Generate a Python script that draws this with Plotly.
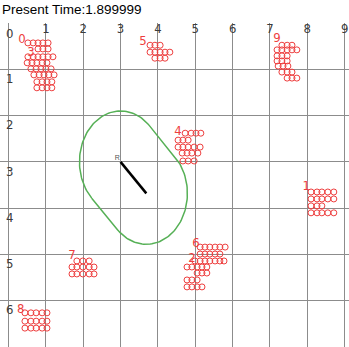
import numpy as np
import plotly.graph_objects as go

PRESENT_TIME = "1.899999"
X_TICKS = list(range(0, 10))
Y_TICKS = list(range(0, 8))

GROUP_NAMES = ["0", "1", "2", "3", "4", "5", "6", "7", "8", "9"]
LABEL_X = [0.36, 7.97, 4.91, 0.60, 4.54, 3.60, 5.02, 1.70, 0.33, 7.19]
LABEL_Y = [0.37, 3.54, 5.10, 0.65, 2.35, 0.41, 4.77, 5.03, 6.20, 0.33]

# agent rows per group: (row y, [x positions])
G0_ROWS = [(0.43, [0.52, 0.66, 0.79, 0.92, 1.06]),
           (0.56, [0.79, 0.92, 1.06])]
G1_ROWS = [(3.65, [8.10, 8.26, 8.39, 8.55, 8.71]),
           (3.80, [8.10, 8.26, 8.39, 8.55, 8.71]),
           (3.95, [8.10, 8.26, 8.39]),
           (4.10, [8.10, 8.26, 8.39, 8.55, 8.71])]
G2_ROWS = [(5.14, [4.99, 5.13]),
           (5.27, [4.78, 4.91, 5.05, 5.18, 5.31]),
           (5.40, [5.05, 5.18, 5.31]),
           (5.55, [4.78, 4.91, 5.05]),
           (5.70, [4.78, 4.91, 5.05, 5.18])]
G3_ROWS = [(0.73, [0.52, 0.66, 0.79, 0.92, 1.06, 1.19]),
           (0.86, [0.50, 0.63, 0.76, 0.90, 1.03]),
           (0.99, [0.60, 0.74, 0.87, 1.00, 1.14]),
           (1.12, [0.68, 0.82, 0.95, 1.08, 1.22]),
           (1.27, [0.76, 0.90, 1.03, 1.16]),
           (1.40, [0.76, 0.90, 1.03, 1.16])]
G4_ROWS = [(2.38, [4.73, 4.89, 5.02, 5.15]),
           (2.53, [4.54, 4.67, 4.81]),
           (2.68, [4.54, 4.67, 4.81, 4.97, 5.13]),
           (2.81, [4.65, 4.78, 4.91, 5.07]),
           (2.98, [4.67, 4.81, 4.97])]
G5_ROWS = [(0.48, [3.79, 3.92, 4.06]),
           (0.63, [3.79, 3.92, 4.06, 4.19, 4.32]),
           (0.76, [3.92, 4.06, 4.19])]
G6_ROWS = [(4.84, [5.13, 5.26, 5.39, 5.53, 5.66, 5.80]),
           (4.99, [5.13, 5.26, 5.39, 5.53, 5.66]),
           (5.14, [5.26, 5.39, 5.53, 5.66, 5.77])]
G7_ROWS = [(5.14, [1.83, 1.99, 2.16]),
           (5.27, [1.70, 1.83, 1.99, 2.16, 2.29]),
           (5.42, [1.70, 1.83, 1.99, 2.16, 2.29])]
G8_ROWS = [(6.26, [0.44, 0.60, 0.74, 0.90, 1.03]),
           (6.44, [0.44, 0.60, 0.74, 0.90, 1.03]),
           (6.59, [0.44, 0.60, 0.74, 0.90, 1.03])]
G9_ROWS = [(0.48, [7.32, 7.46, 7.59]),
           (0.58, [7.19, 7.32, 7.46, 7.59, 7.72]),
           (0.71, [7.19, 7.32, 7.46]),
           (0.82, [7.19, 7.32, 7.46]),
           (0.93, [7.22, 7.35, 7.48]),
           (1.06, [7.32, 7.46, 7.59]),
           (1.19, [7.46, 7.59, 7.72])]

ROBOT_START = (3.00, 3.00)
ROBOT_END = (3.69, 3.68)
SAFETY_RADIUS = 1.10

RED = "rgb(238,62,62)"
GRID = "#8c8c8c"
GREEN = "rgb(86,176,86)"
TICK_COLOR = "#3c3c3c"
TICK_FONT = "Liberation Sans Narrow, DejaVu Sans Condensed, Arial Narrow, Liberation Sans, sans-serif"

ax_x, ax_y = [], []
for rows in [G0_ROWS, G1_ROWS, G2_ROWS, G3_ROWS, G4_ROWS, G5_ROWS,
             G6_ROWS, G7_ROWS, G8_ROWS, G9_ROWS]:
    for yy, xs in rows:
        for xx in xs:
            ax_x.append(xx)
            ax_y.append(yy)

# safety region: stadium around robot segment
sx, sy = ROBOT_START
ex, ey = ROBOT_END
th = np.arctan2(ey - sy, ex - sx)
a1 = np.linspace(th + np.pi / 2, th + 3 * np.pi / 2, 80)
a2 = np.linspace(th - np.pi / 2, th + np.pi / 2, 80)
cx = np.concatenate([sx + SAFETY_RADIUS * np.cos(a1), ex + SAFETY_RADIUS * np.cos(a2)])
cy = np.concatenate([sy + SAFETY_RADIUS * np.sin(a1), ey + SAFETY_RADIUS * np.sin(a2)])
cx = np.append(cx, cx[0])
cy = np.append(cy, cy[0])

fig = go.Figure()
fig.add_trace(go.Scatter(x=cx, y=cy, mode="lines",
                         line=dict(color=GREEN, width=1.5), hoverinfo="skip"))
fig.add_trace(go.Scatter(x=[sx, ex], y=[sy, ey], mode="lines",
                         line=dict(color="black", width=2.5), hoverinfo="skip"))
fig.add_trace(go.Scatter(x=[sx - 0.09], y=[sy - 0.07], mode="text", text=["R"],
                         textfont=dict(size=7, color="#555", family="Liberation Sans, Arial, sans-serif"),
                         hoverinfo="skip"))
fig.add_trace(go.Scatter(x=ax_x, y=ax_y, mode="markers",
                         marker=dict(symbol="circle-open", size=6, color=RED,
                                     line=dict(width=1, color=RED)),
                         hoverinfo="skip"))
fig.add_trace(go.Scatter(x=LABEL_X, y=LABEL_Y, mode="text", text=GROUP_NAMES,
                         textfont=dict(size=13, color=RED, family=TICK_FONT),
                         hoverinfo="skip"))

W, H = 349, 347
X0_PX, T = 8.5, 23
px_x = 37.35
px_y = 46.3

fig.update_layout(
    width=W, height=H,
    margin=dict(l=0, r=0, t=T, b=0, pad=0),
    paper_bgcolor="white", plot_bgcolor="white",
    showlegend=False, hovermode=False,
    title=dict(text="Present Time:" + PRESENT_TIME, x=2 / W, xanchor="left",
               xref="container", y=1 - 4.5 / H, yref="container", yanchor="top",
               font=dict(size=13.5, color="black", family="Liberation Sans, Arial, sans-serif"),
               pad=dict(t=0, l=0, r=0, b=0)),
    xaxis=dict(range=[-X0_PX / px_x, (W - X0_PX) / px_x], side="top", tickmode="array",
               tickvals=X_TICKS[1:], ticktext=[str(v) for v in X_TICKS[1:]],
               showgrid=True, gridcolor=GRID, gridwidth=1, zeroline=False,
               showline=False, ticks="", automargin=False,
               ticklabelposition="inside", ticklabelstandoff=-2,
               tickfont=dict(size=13, color=TICK_COLOR, family=TICK_FONT)),
    yaxis=dict(range=[(H - T) / px_y, 0], tickmode="array",
               tickvals=Y_TICKS[1:], ticktext=[str(v) for v in Y_TICKS[1:]],
               showgrid=True, gridcolor=GRID, gridwidth=1, zeroline=False,
               showline=True, linecolor="#d4d4d4", linewidth=1, ticks="", automargin=False,
               ticklabelposition="inside bottom", ticklabelstandoff=5,
               tickfont=dict(size=13, color=TICK_COLOR, family=TICK_FONT)),
)
# origin label (shared by both axes), placed at the x=0 gridline like the other tick labels
fig.add_annotation(x=X_TICKS[0], y=Y_TICKS[0], xref="x", yref="y", text=str(X_TICKS[0]),
                   showarrow=False, xanchor="center", yanchor="top", xshift=1, yshift=-1,
                   font=dict(size=13, color=TICK_COLOR, family=TICK_FONT))
fig.add_shape(type="line", xref="x", yref="y", x0=0, x1=0, y0=0, y1=(H - T) / px_y,
              line=dict(color=GRID, width=1), layer="below")

fig.write_html("out.html", config={"displayModeBar": False},
               post_script="document.body.style.margin='0';document.body.style.overflow='hidden';")
